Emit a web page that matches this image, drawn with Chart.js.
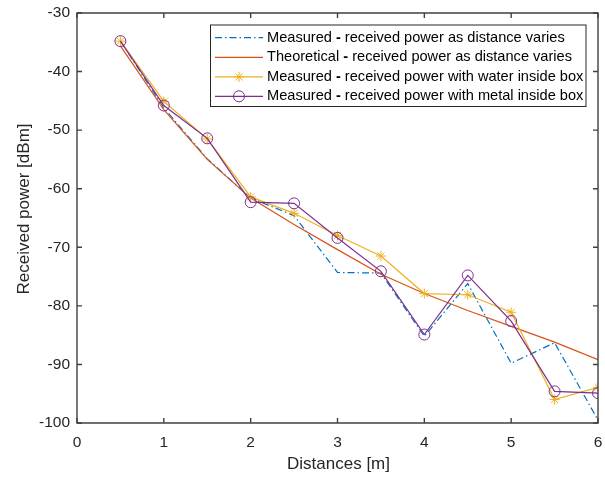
<!DOCTYPE html>
<html>
<head>
<meta charset="utf-8">
<script src="https://cdn.jsdelivr.net/npm/chart.js@4.4.0/dist/chart.umd.min.js"></script>
<style>
html,body{margin:0;padding:0;background:#fff;}
#wrap{width:605px;height:477px;position:relative;}
</style>
</head>
<body>
<div id="wrap"><canvas id="c" width="605" height="477"></canvas></div>
<script>
const distances = [0.5, 1, 1.5, 2, 2.5, 3, 3.5, 4, 4.5, 5, 5.5, 6];
const measured = [-34.8, -46.2, -54.9, -61.6, -64.6, -74.3, -74.4, -85.2, -76.2, -89.8, -86.3, -99.5];
const theoretical = [-35.6, -46.5, -55.0, -61.6, -66.1, -70.4, -74.6, -77.9, -80.8, -83.5, -86.2, -89.2];
const water = [-34.8, -45.1, -51.5, -61.4, -64.2, -68.0, -71.5, -77.9, -78.1, -81.1, -96.0, -93.9];
const metal = [-34.8, -45.8, -51.4, -62.3, -62.5, -68.4, -74.1, -84.9, -74.8, -82.6, -94.6, -94.9];
const xTicks = [0, 1, 2, 3, 4, 5, 6];
const yTicks = [-100, -90, -80, -70, -60, -50, -40, -30];
const xTitle = 'Distances [m]';
const yTitle = 'Received power [dBm]';
const seriesLabels = [
  ["Measured", "received power as distance varies"],
  ["Theoretical", "received power as distance varies"],
  ["Measured", "received power with water inside box"],
  ["Measured", "received power with metal inside box"]
];

const C_BLUE = '#0072BD', C_ORANGE = '#D95319', C_YELLOW = '#EDB120', C_PURPLE = '#7E2F8E';
const AXC = '#262626';
const FONT = '"Liberation Sans", Arial, Helvetica, sans-serif';

function pts(ys){ return distances.map((x,i)=>({x:x,y:ys[i]})); }

const dsStyles = [
  {color:C_BLUE, dash:[7,3,1.5,3], point:false, style:'circle', r:0},
  {color:C_ORANGE, dash:[], point:false, style:'circle', r:0},
  {color:C_YELLOW, dash:[], point:true, style:'star', r:5},
  {color:C_PURPLE, dash:[], point:true, style:'circle', r:5.5}
];

function zeroPad(s){ s.paddingLeft = 0; s.paddingRight = 0; s.paddingTop = 0; s.paddingBottom = 0; }

const boxPlugin = {
  id:'boxPlugin',
  afterDatasetsDraw(chart){
    const ctx = chart.ctx, a = chart.chartArea;
    const xs = chart.scales.x, ys = chart.scales.y;
    ctx.save();
    ctx.strokeStyle = '#404040';
    ctx.lineWidth = 1.4;
    ctx.beginPath();
    ctx.rect(a.left, a.top, a.right-a.left, a.bottom-a.top);
    ctx.stroke();
    const tl = 5;
    ctx.beginPath();
    xTicks.forEach(v=>{
      const px = xs.getPixelForValue(v);
      ctx.moveTo(px, a.bottom); ctx.lineTo(px, a.bottom-tl);
      ctx.moveTo(px, a.top); ctx.lineTo(px, a.top+tl);
    });
    yTicks.forEach(v=>{
      const py = ys.getPixelForValue(v);
      ctx.moveTo(a.left, py); ctx.lineTo(a.left+tl, py);
      ctx.moveTo(a.right, py); ctx.lineTo(a.right-tl, py);
    });
    ctx.stroke();

    // axis titles
    ctx.fillStyle = AXC;
    ctx.font = '17px ' + FONT;
    ctx.textAlign = 'center';
    ctx.textBaseline = 'alphabetic';
    ctx.fillText(xTitle, (a.left + a.right)/2 + 1, 468.5);
    ctx.save();
    ctx.translate(28.5, (a.top + a.bottom)/2 - 9);
    ctx.rotate(-Math.PI/2);
    ctx.fillText(yTitle, 0, 0);
    ctx.restore();

    // legend
    const lx = 210.5, ly = 25, lw = 375.5, lh = 81.5;
    ctx.fillStyle = '#fff';
    ctx.fillRect(lx, ly, lw, lh);
    ctx.strokeStyle = AXC;
    ctx.lineWidth = 1;
    ctx.strokeRect(lx, ly, lw, lh);
    const rowY = [37.7, 57.3, 76.9, 96.3];
    const fs = 14.6;
    seriesLabels.forEach((lab,i)=>{
      const st = dsStyles[i];
      const y = rowY[i];
      ctx.save();
      ctx.strokeStyle = st.color;
      ctx.fillStyle = 'rgba(0,0,0,0)';
      ctx.lineWidth = 1.2;
      ctx.setLineDash(st.dash);
      ctx.beginPath(); ctx.moveTo(215, y); ctx.lineTo(263, y); ctx.stroke();
      ctx.setLineDash([]);
      ctx.lineWidth = 1;
      if (st.point){
        Chart.helpers.drawPoint(ctx, {pointStyle:st.style, radius:st.r, borderWidth:1, rotation:0}, 239, y);
      }
      ctx.restore();
      ctx.fillStyle = '#000';
      ctx.textBaseline = 'middle';
      ctx.textAlign = 'left';
      let x = 267;
      ctx.font = fs + 'px ' + FONT;
      ctx.fillText(lab[0] + ' ', x, y);
      x += ctx.measureText(lab[0] + ' ').width;
      ctx.font = 'bold ' + fs + 'px ' + FONT;
      ctx.fillText('-', x, y);
      x += ctx.measureText('-').width;
      ctx.font = fs + 'px ' + FONT;
      ctx.fillText(' ' + lab[1], x, y);
    });
    ctx.restore();
  }
};

const data = {
  datasets: [
    {label: seriesLabels[0].join(' - '), data: pts(measured), borderColor:C_BLUE, backgroundColor:C_BLUE, borderWidth:1.2, borderDash:[7,3,1.5,3], pointRadius:0, order:4},
    {label: seriesLabels[1].join(' - '), data: pts(theoretical), borderColor:C_ORANGE, backgroundColor:C_ORANGE, borderWidth:1.2, pointRadius:0, order:3},
    {label: seriesLabels[2].join(' - '), data: pts(water), borderColor:C_YELLOW, backgroundColor:'rgba(0,0,0,0)', borderWidth:1.2, pointStyle:'star', pointRadius:5, pointBorderWidth:1, pointBorderColor:C_YELLOW, order:2},
    {label: seriesLabels[3].join(' - '), data: pts(metal), borderColor:C_PURPLE, backgroundColor:'rgba(0,0,0,0)', borderWidth:1.2, pointStyle:'circle', pointRadius:5.5, pointBorderWidth:1, pointBorderColor:C_PURPLE, order:1}
  ]
};

const chart = new Chart(document.getElementById('c'), {
  type:'line',
  data:data,
  plugins:[boxPlugin],
  options:{
    responsive:false,
    animation:false,
    devicePixelRatio:1,
    layout:{padding:{left:0,right:7,top:13,bottom:0}},
    elements:{line:{tension:0}},
    plugins:{legend:{display:false}, tooltip:{enabled:false}},
    scales:{
      x:{
        type:'linear', min:0, max:6,
        afterFit(s){ s.height = 54; zeroPad(s); },
        afterBuildTicks(s){ s.ticks = xTicks.map(v=>({value:v})); },
        grid:{display:false, drawTicks:false},
        border:{display:false},
        ticks:{padding:10, color:AXC, font:{family:FONT, size:15.5}, maxRotation:0},
        title:{display:false}
      },
      y:{
        type:'linear', min:-100, max:-30,
        afterFit(s){ s.width = 77; zeroPad(s); },
        afterBuildTicks(s){ s.ticks = yTicks.map(v=>({value:v})); },
        grid:{display:false, drawTicks:false},
        border:{display:false},
        ticks:{padding:7, color:AXC, font:{family:FONT, size:15.5}},
        title:{display:false}
      }
    }
  }
});
</script>
</body>
</html>
